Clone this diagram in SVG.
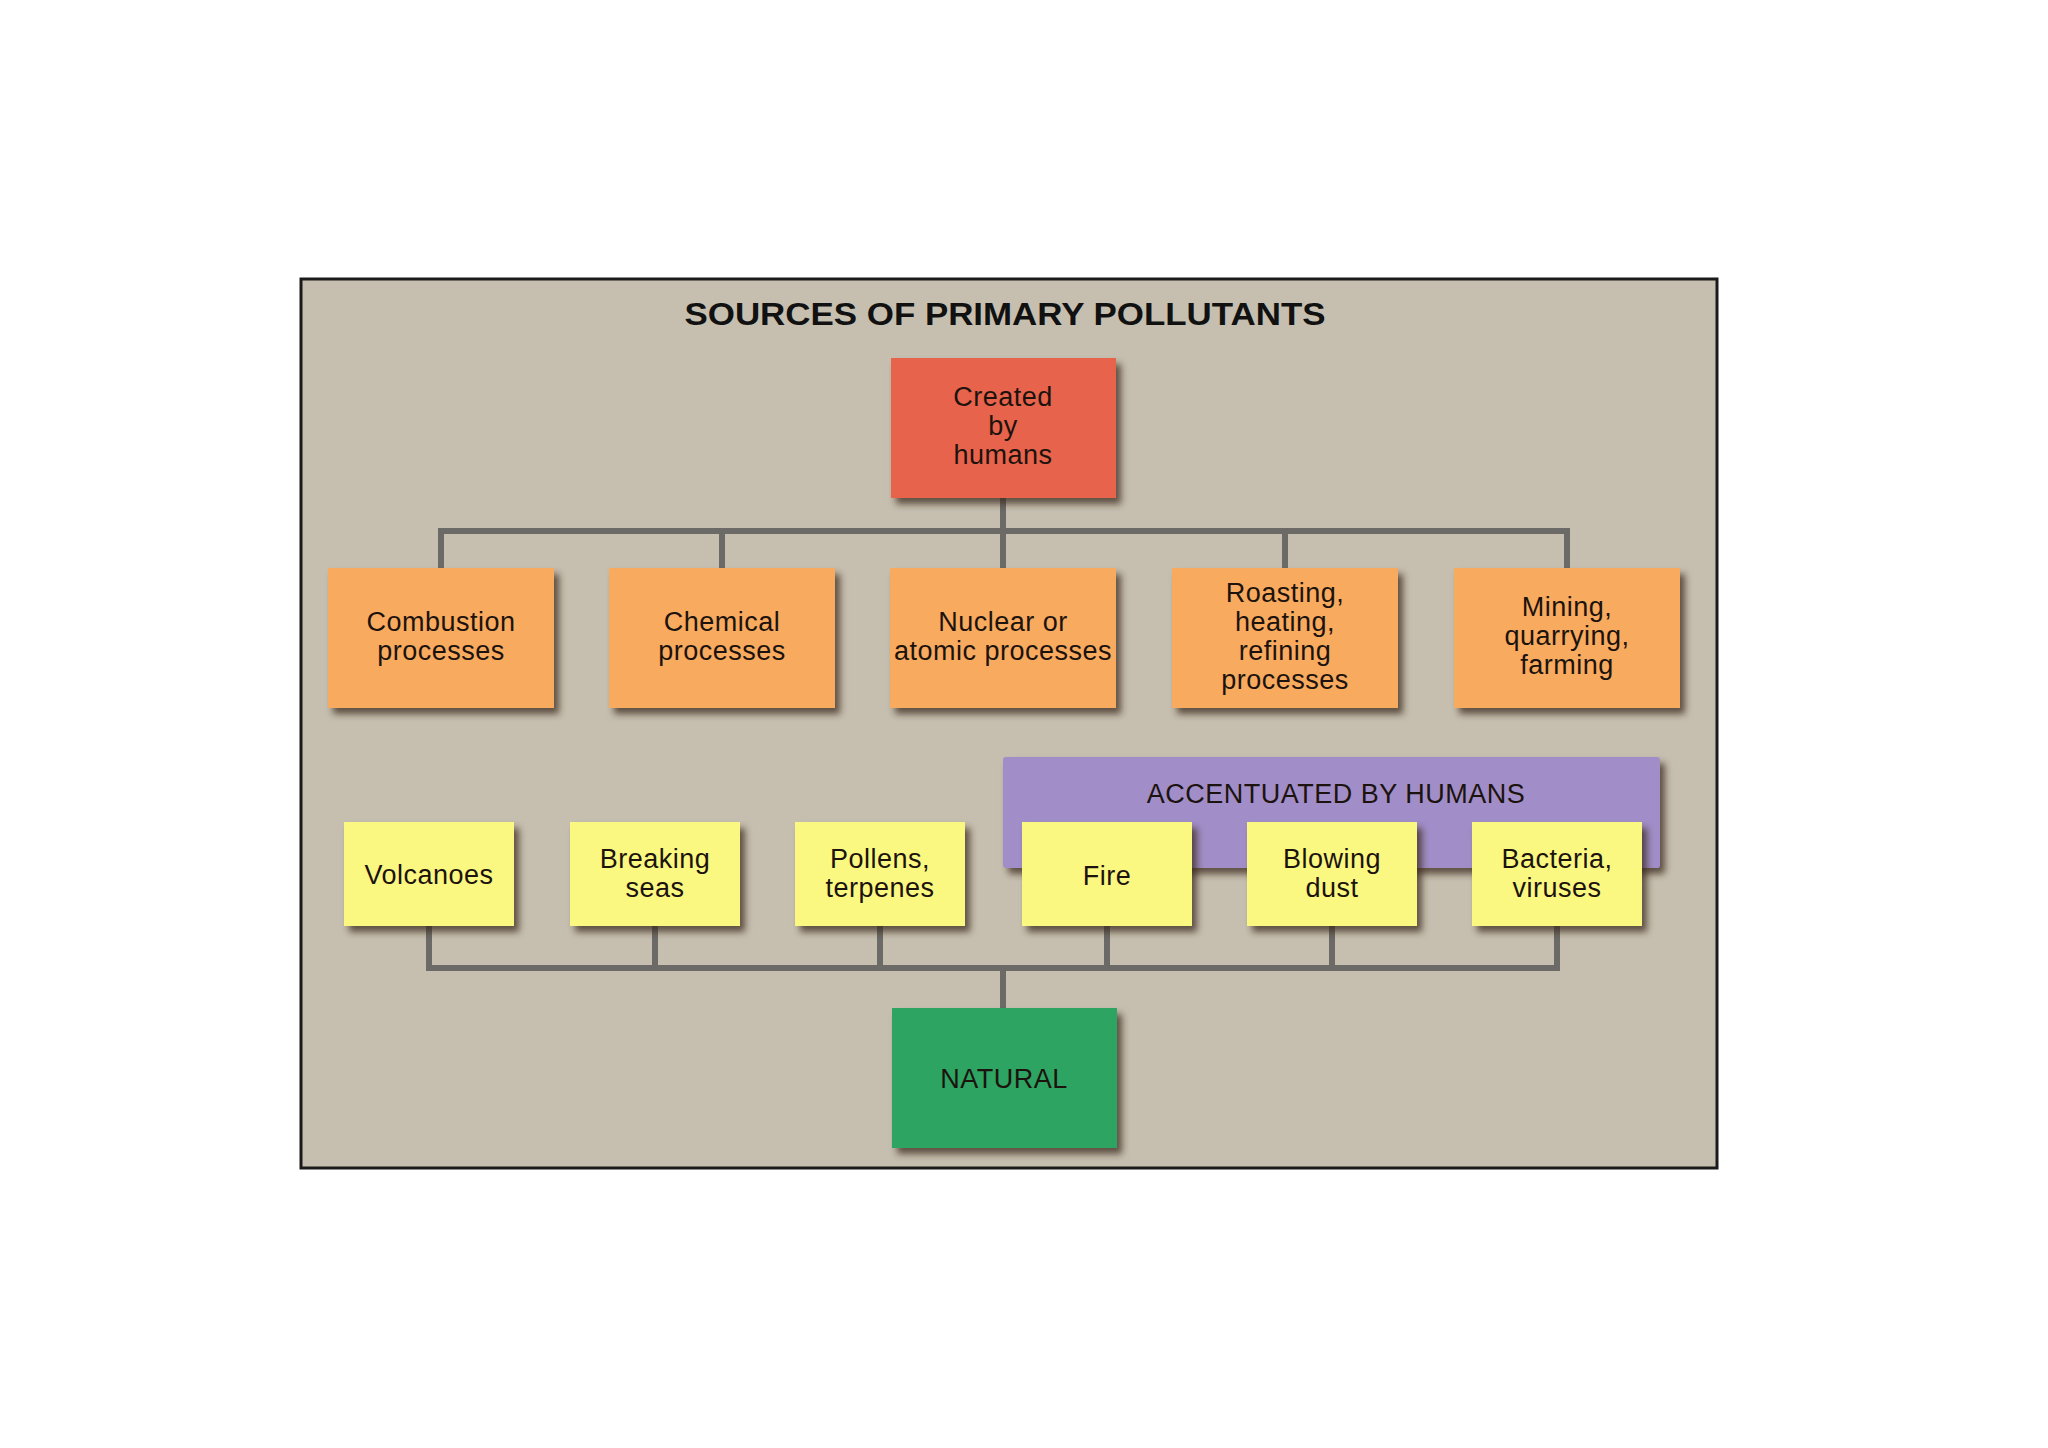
<svg xmlns="http://www.w3.org/2000/svg" width="2048" height="1448" viewBox="0 0 2048 1448">
<defs>
<filter id="sh" x="-10%" y="-10%" width="130%" height="130%">
<feDropShadow dx="5" dy="6" stdDeviation="3.5" flood-color="#3a2c1c" flood-opacity="0.75"/>
</filter>
</defs>
<style>
.t{font-family:"Liberation Sans",Arial,Helvetica,sans-serif;font-size:27px;letter-spacing:0.5px;fill:#1c130e;text-anchor:middle}
.title{font-family:"Liberation Sans",Arial,Helvetica,sans-serif;font-size:32px;font-weight:bold;fill:#111;text-anchor:middle}
.red{fill:#e8644b;filter:url(#sh)}
.org{fill:#f8aa5f;filter:url(#sh)}
.yel{fill:#fbf882;filter:url(#sh)}
.grn{fill:#2ea462;filter:url(#sh)}
.pur{fill:#a18ec8;filter:url(#sh)}
.c{stroke:#6c6a67;stroke-width:6;fill:none}
</style>
<rect x="0" y="0" width="2048" height="1448" fill="#ffffff"/>
<rect x="301" y="279" width="1416" height="889" fill="#c6bfb0" stroke="#1a1a1a" stroke-width="3"/>
<text class="title" x="1005" y="325" textLength="641" lengthAdjust="spacingAndGlyphs">SOURCES OF PRIMARY POLLUTANTS</text>

<g id="connectors">
<path class="c" d="M1003 498 V531 M441 568 V531 H1567 V568 M722 531 V568 M1003 531 V568 M1285 531 V568"/>
<path class="c" d="M429 926 V968 H1557 V926 M655 926 V968 M880 926 V968 M1107 926 V968 M1332 926 V968 M1003 968 V1008"/>
</g>

<g id="accentuated">
<rect class="pur" x="1003" y="757" width="657" height="111" rx="3"/>
<text class="t" x="1336" y="803">ACCENTUATED BY HUMANS</text>
</g>

<g id="created">
<rect class="red" x="891" y="358" width="225" height="140"/>
<text class="t" x="1003" y="406">Created</text>
<text class="t" x="1003" y="435">by</text>
<text class="t" x="1003" y="464">humans</text>
</g>

<g id="combustion">
<rect class="org" x="328" y="568" width="226" height="140"/>
<text class="t" x="441" y="631">Combustion</text>
<text class="t" x="441" y="660">processes</text>
</g>
<g id="chemical">
<rect class="org" x="609" y="568" width="226" height="140"/>
<text class="t" x="722" y="631">Chemical</text>
<text class="t" x="722" y="660">processes</text>
</g>
<g id="nuclear">
<rect class="org" x="890" y="568" width="226" height="140"/>
<text class="t" x="1003" y="631">Nuclear or</text>
<text class="t" x="1003" y="660">atomic processes</text>
</g>
<g id="roasting">
<rect class="org" x="1172" y="568" width="226" height="140"/>
<text class="t" x="1285" y="602">Roasting,</text>
<text class="t" x="1285" y="631">heating,</text>
<text class="t" x="1285" y="660">refining</text>
<text class="t" x="1285" y="689">processes</text>
</g>
<g id="mining">
<rect class="org" x="1454" y="568" width="226" height="140"/>
<text class="t" x="1567" y="616">Mining,</text>
<text class="t" x="1567" y="645">quarrying,</text>
<text class="t" x="1567" y="674">farming</text>
</g>

<g id="volcanoes">
<rect class="yel" x="344" y="822" width="170" height="104"/>
<text class="t" x="429" y="884">Volcanoes</text>
</g>
<g id="breaking">
<rect class="yel" x="570" y="822" width="170" height="104"/>
<text class="t" x="655" y="868">Breaking</text>
<text class="t" x="655" y="897">seas</text>
</g>
<g id="pollens">
<rect class="yel" x="795" y="822" width="170" height="104"/>
<text class="t" x="880" y="868">Pollens,</text>
<text class="t" x="880" y="897">terpenes</text>
</g>
<g id="fire">
<rect class="yel" x="1022" y="822" width="170" height="104"/>
<text class="t" x="1107" y="885">Fire</text>
</g>
<g id="blowing">
<rect class="yel" x="1247" y="822" width="170" height="104"/>
<text class="t" x="1332" y="868">Blowing</text>
<text class="t" x="1332" y="897">dust</text>
</g>
<g id="bacteria">
<rect class="yel" x="1472" y="822" width="170" height="104"/>
<text class="t" x="1557" y="868">Bacteria,</text>
<text class="t" x="1557" y="897">viruses</text>
</g>

<g id="natural">
<rect class="grn" x="892" y="1008" width="225" height="140"/>
<text class="t" x="1004" y="1088">NATURAL</text>
</g>
</svg>
